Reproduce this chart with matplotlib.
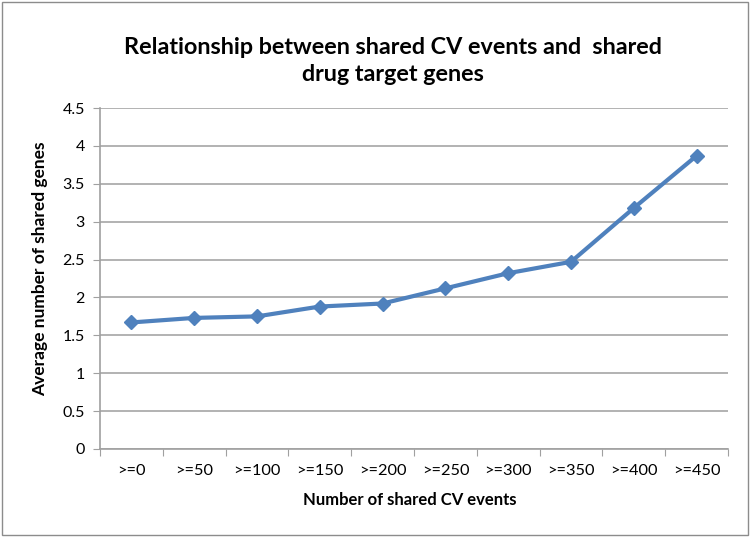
import matplotlib
matplotlib.use("Agg")
import matplotlib.pyplot as plt
from matplotlib.patches import Rectangle

categories = [">=0", ">=50", ">=100", ">=150", ">=200", ">=250", ">=300", ">=350", ">=400", ">=450"]
avg_shared_genes = [1.67, 1.73, 1.75, 1.88, 1.92, 2.12, 2.32, 2.47, 3.18, 3.87]
y_ticks = [0, 0.5, 1, 1.5, 2, 2.5, 3, 3.5, 4, 4.5]
y_tick_labels = ["0", "0.5", "1", "1.5", "2", "2.5", "3", "3.5", "4", "4.5"]

plt.rcParams['font.family'] = ['Lato', 'DejaVu Sans']

fig = plt.figure(figsize=(7.5, 5.37), dpi=100)
ax = fig.add_axes([100/750, 88/537, 628/750, 341/537])

x = list(range(len(categories)))
ax.plot(x, avg_shared_genes, color='#4F81BD', linewidth=3, marker='D', markersize=7,
        markerfacecolor='#4F81BD', markeredgecolor='#4F81BD', zorder=3)

ax.set_xlim(-0.5, len(categories) - 0.5)
ax.set_ylim(0, 4.5)
ax.set_yticks(y_ticks)
ax.set_yticklabels(y_tick_labels, fontsize=11.5)
ax.set_xticks([i - 0.5 for i in range(len(categories) + 1)])
ax.set_xticklabels([])
ax.set_xticks(x, minor=True)
ax.set_xticklabels(categories, minor=True, fontsize=11.8)
ax.tick_params(axis='x', which='minor', length=0, pad=11)
ax.tick_params(axis='x', which='major', length=5, color='#A0A0A0', direction='out')
ax.tick_params(axis='y', length=5, color='#A0A0A0', direction='out', pad=6)

ax.grid(axis='y', color='#A6A6A6', linewidth=1.2)
ax.set_axisbelow(True)
for s in ['top', 'right']:
    ax.spines[s].set_visible(False)
for s in ['left', 'bottom']:
    ax.spines[s].set_color('#A0A0A0')
    ax.spines[s].set_linewidth(1.2)

ax.set_xlabel("Number of shared CV events", fontsize=12, fontweight='bold', va='center')
ax.set_ylabel("Average number of shared genes", fontsize=12.5, fontweight='bold', va='center')
ax.xaxis.set_label_coords((410 - 100) / 628, (449 - 500) / 341)
ax.yaxis.set_label_coords((40 - 100) / 628, (449 - 269) / 341)

fig.text(0.524, 1 - 61/537, "Relationship between shared CV events and  shared\ndrug target genes",
         ha='center', va='center', fontsize=16.8, fontweight='bold', linespacing=1.3)

fig.patches.append(Rectangle((2/750, 2/537), 746/750, 533/537, transform=fig.transFigure,
                             fill=False, edgecolor='#8C8C8C', linewidth=1))

fig.savefig("out.png", dpi=100)
